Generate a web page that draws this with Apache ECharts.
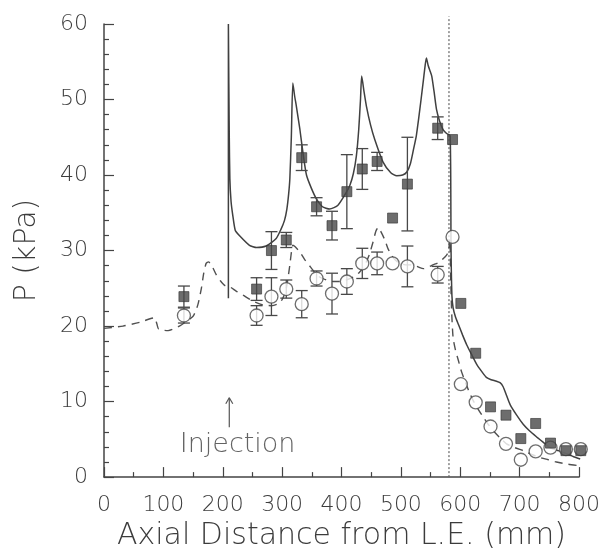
<!DOCTYPE html>
<html>
<head>
<meta charset="utf-8">
<script src="https://cdn.jsdelivr.net/npm/echarts@6.0.0/dist/echarts.min.js"></script>
<style>
  html, body { margin: 0; padding: 0; background: #fff; }
  #main { width: 603px; height: 556px; }
</style>
</head>
<body>
<div id="main"></div>
<script type="text/javascript">
// axis ticks
var xTicks = [0, 100, 200, 300, 400, 500, 600, 700, 800];
var yTicks = [0, 10, 20, 30, 40, 50, 60];

// solid curve (with injection), [mm, kPa]
var solidCurve = [
  [209.5, 23.7], [209.5, 60], [211, 45], [212, 39.5], [214, 36.5], [217, 34.6], [221, 32.7], [228, 32],
  [245, 30.7], [257, 30.4], [273, 30.6], [290, 31.6], [298, 32.8], [304, 34], [308, 35.5],
  [311, 37.5], [313, 39.5], [315.5, 45], [318, 52.2], [321, 50.5], [324, 49.1], [330, 46],
  [335, 43], [341, 40], [349, 38.3], [358, 36.8], [368, 35.8], [380, 35.5], [394, 36],
  [408, 37.7], [414, 38.6], [420, 40.2], [425, 42.5], [429, 46], [432, 50], [434, 53.1],
  [438, 51], [442, 49.1], [449, 46.6], [456, 44.7], [470, 41.7], [483, 40.3], [493, 39.9],
  [503, 40], [510, 40.4], [516, 41.5], [521, 43.3], [526, 45.2], [530, 47.5], [534, 50],
  [538, 52.6], [541, 54.6], [543, 55.5], [546, 54.5], [549, 53.8], [552, 53.1], [556, 51],
  [560, 48.7], [565, 47.2], [571, 46], [577, 45.5], [583, 45.2], [584.5, 30], [586, 24],
  [588, 22.4], [592, 21.2], [597, 20.2], [604, 18.8], [611, 17.5], [620, 16.1], [628, 14.9],
  [636, 14], [644, 13.2], [652, 12.9], [661, 12.7], [667, 12.5], [672, 12], [678, 10.8],
  [684, 9.6], [695, 8.2], [706, 7.0], [717, 6.1], [729, 5.3], [740, 4.6], [751, 3.9],
  [765, 3.5], [779, 3.1], [791, 2.7], [802, 2.4]
];

// dashed curve (no injection), [mm, kPa]
var dashedCurve = [
  [0, 19.7], [32, 20], [60, 20.5], [85, 21.1], [89, 20.3], [92, 19.6], [108, 19.4], [127, 20],
  [150, 21.3], [158, 22.8], [164, 25], [168, 27], [172, 28.3], [176, 28.5], [181, 28.1],
  [189, 26.8], [196, 26], [203, 25.4], [212, 25.2], [223, 24.6], [234, 24.1], [251, 23.3],
  [268, 22.8], [282, 22.7], [292, 22.9], [300, 23.5], [304, 24.2], [307, 25], [310, 26.4],
  [313, 28.1], [316, 30], [318, 30.7], [322, 30.5], [330, 29.8], [338, 28.8], [346, 28],
  [354, 27.2], [363, 26.5], [375, 26.1], [386, 25.9], [397, 25.9], [408, 26.1], [420, 26.5],
  [430, 27.1], [440, 28.2], [447, 29.5], [453, 31.1], [458, 32.6], [462, 33.1], [467, 32.4],
  [473, 31.4], [478, 30.3], [484, 29.4], [491, 28.7], [498, 28.3], [510, 28.1], [521, 28.1],
  [530, 27.8], [538, 27.6], [546, 27.8], [554, 28.1], [563, 28.4], [571, 28.9], [577, 29.4],
  [580, 29.8], [582.5, 31.5], [584, 26], [585.5, 21.9], [588, 18.4], [592, 16.8], [597, 15.4],
  [602, 14], [608, 12.7], [615, 11.3], [622, 10.1], [630, 9], [639, 7.9], [647, 7],
  [656, 6.1], [667, 5.2], [678, 4.4], [692, 3.9], [706, 3.5], [720, 3.0], [734, 2.6],
  [748, 2.3], [762, 2.0], [782, 1.7], [802, 1.5]
];

// measured points: squares
var squareX = [134.6, 257, 282, 307, 333, 358, 384, 409, 435, 460, 486, 511, 562, 587, 601, 626, 651, 677, 702, 727, 752, 778, 803];
var squareP = [23.9, 24.9, 30.0, 31.4, 42.3, 35.8, 33.3, 37.8, 40.8, 41.8, 34.3, 38.8, 46.2, 44.7, 23.0, 16.4, 9.3, 8.2, 5.1, 7.1, 4.5, 3.5, 3.5];
var squareErr = [1.4, 1.5, 2.5, 1.0, 1.7, 1.2, 1.9, 4.9, 2.7, 1.2, 0, 6.2, 1.5, 0, 0, 0, 0, 0, 0, 0, 0, 0, 0];

// measured points: circles
var circleX = [134.6, 257, 282, 307, 333, 358, 384, 409, 435, 460, 486, 511, 562, 587, 601, 626, 651, 677, 702, 727, 752, 778, 803];
var circleP = [21.4, 21.4, 23.9, 24.9, 22.9, 26.3, 24.3, 25.9, 28.3, 28.3, 28.3, 27.9, 26.8, 31.8, 12.3, 9.9, 6.7, 4.4, 2.3, 3.4, 3.9, 3.7, 3.7];
var circleErr = [1.0, 1.3, 2.5, 1.2, 1.8, 1.0, 2.7, 1.7, 2.0, 1.5, 0, 2.7, 1.1, 0, 0, 0, 0, 0, 0, 0, 0, 0, 0];

// dotted vertical line and injection marker
var dottedLine = [[581, 0], [581, 61]];
var injectionArrow = [[211, 6.6, 10.5]];
var injectionLabel = [[225, 4.2]];

var ink = '#484848';
var txt = '#3c3c3c';
var font = 'DejaVu Sans';

function toPairs(xs, ys) {
  var out = [];
  for (var i = 0; i < xs.length; i++) out.push([xs[i], ys[i]]);
  return out;
}
function toErr(xs, ys, es) {
  var out = [];
  for (var i = 0; i < xs.length; i++) {
    if (es[i] > 0) out.push([xs[i], ys[i] - es[i], ys[i] + es[i]]);
  }
  return out;
}

function renderErr(params, api) {
  var lo = api.coord([api.value(0), api.value(1)]);
  var hi = api.coord([api.value(0), api.value(2)]);
  var w = 6;
  var st = { stroke: ink, lineWidth: 1.3 };
  return {
    type: 'group',
    children: [
      { type: 'line', shape: { x1: lo[0], y1: lo[1], x2: hi[0], y2: hi[1] }, style: st },
      { type: 'line', shape: { x1: lo[0] - w, y1: lo[1], x2: lo[0] + w, y2: lo[1] }, style: st },
      { type: 'line', shape: { x1: hi[0] - w, y1: hi[1], x2: hi[0] + w, y2: hi[1] }, style: st }
    ]
  };
}

function renderArrow(params, api) {
  var a = api.coord([api.value(0), api.value(1)]);
  var b = api.coord([api.value(0), api.value(2)]);
  var st = { stroke: '#555', lineWidth: 1.2 };
  return {
    type: 'group',
    children: [
      { type: 'line', shape: { x1: a[0], y1: a[1], x2: b[0], y2: b[1] }, style: st },
      { type: 'line', shape: { x1: b[0] - 3.5, y1: b[1] + 6, x2: b[0], y2: b[1] }, style: st },
      { type: 'line', shape: { x1: b[0] + 3.5, y1: b[1] + 6, x2: b[0], y2: b[1] }, style: st }
    ]
  };
}

var chart = echarts.init(document.getElementById('main'));
chart.setOption({
  backgroundColor: '#fff',
  animation: false,
  grid: { left: 104, right: 24, top: 24, bottom: 76 },
  xAxis: {
    type: 'value', min: xTicks[0], max: xTicks[xTicks.length - 1], interval: 100,
    name: 'Axial Distance from L.E. (mm)', nameLocation: 'middle', nameGap: 41,
    nameTextStyle: { fontFamily: font, fontSize: 30, color: txt, fontWeight: 'lighter' },
    axisLine: { lineStyle: { color: '#444', width: 1.5 } },
    axisTick: { inside: true, length: 10, lineStyle: { color: '#444', width: 1.2 } },
    minorTick: { show: true, splitNumber: 2, length: 5, lineStyle: { color: '#444', width: 1.2 } },
    axisLabel: { margin: 17, fontFamily: font, fontSize: 22, color: txt, fontWeight: 'lighter' },
    splitLine: { show: false }
  },
  yAxis: {
    type: 'value', min: yTicks[0], max: yTicks[yTicks.length - 1], interval: 10,
    name: 'P (kPa)', nameLocation: 'middle', nameGap: 62,
    nameTextStyle: { fontFamily: font, fontSize: 30, color: txt, fontWeight: 'lighter' },
    axisLine: { show: true, lineStyle: { color: '#444', width: 1.5 } },
    axisTick: { show: true, inside: true, length: 10, lineStyle: { color: '#444', width: 1.2 } },
    minorTick: { show: true, splitNumber: 5, length: 5, lineStyle: { color: '#444', width: 1.2 } },
    axisLabel: { margin: 16, fontFamily: font, fontSize: 22, color: txt, fontWeight: 'lighter' },
    splitLine: { show: false }
  },
  series: [
    {
      type: 'line', data: dottedLine, symbol: 'none', silent: true, clip: false,
      lineStyle: { color: '#666', width: 1.2, type: [2, 2] }, z: 1
    },
    {
      type: 'line', data: dashedCurve, symbol: 'none', smooth: 0.2, clip: false,
      lineStyle: { color: '#505050', width: 1.4, type: [8, 6] }, z: 2
    },
    {
      type: 'line', data: solidCurve, symbol: 'none', smooth: 0.2, clip: false,
      lineStyle: { color: '#404040', width: 1.5 }, z: 2
    },
    {
      type: 'custom', data: toErr(squareX, squareP, squareErr), renderItem: renderErr, clip: false, z: 3
    },
    {
      type: 'custom', data: toErr(circleX, circleP, circleErr), renderItem: renderErr, clip: false, z: 3
    },
    {
      type: 'scatter', data: toPairs(circleX, circleP), symbol: 'circle', symbolSize: 13, clip: false,
      itemStyle: { color: '#fff', borderColor: ink, borderWidth: 1.3 }, z: 4
    },
    {
      type: 'scatter', data: toPairs(squareX, squareP), symbol: 'rect', symbolSize: 10, clip: false,
      itemStyle: { color: ink, borderColor: '#333', borderWidth: 0.8 }, z: 5
    },
    {
      type: 'custom', data: injectionArrow, renderItem: renderArrow, z: 3
    },
    {
      type: 'scatter', data: injectionLabel, symbolSize: 0, silent: true,
      label: {
        show: true, position: 'inside', formatter: 'Injection',
        fontFamily: font, fontSize: 27, color: txt, fontWeight: 'lighter'
      }
    }
  ]
});
</script>
</body>
</html>
